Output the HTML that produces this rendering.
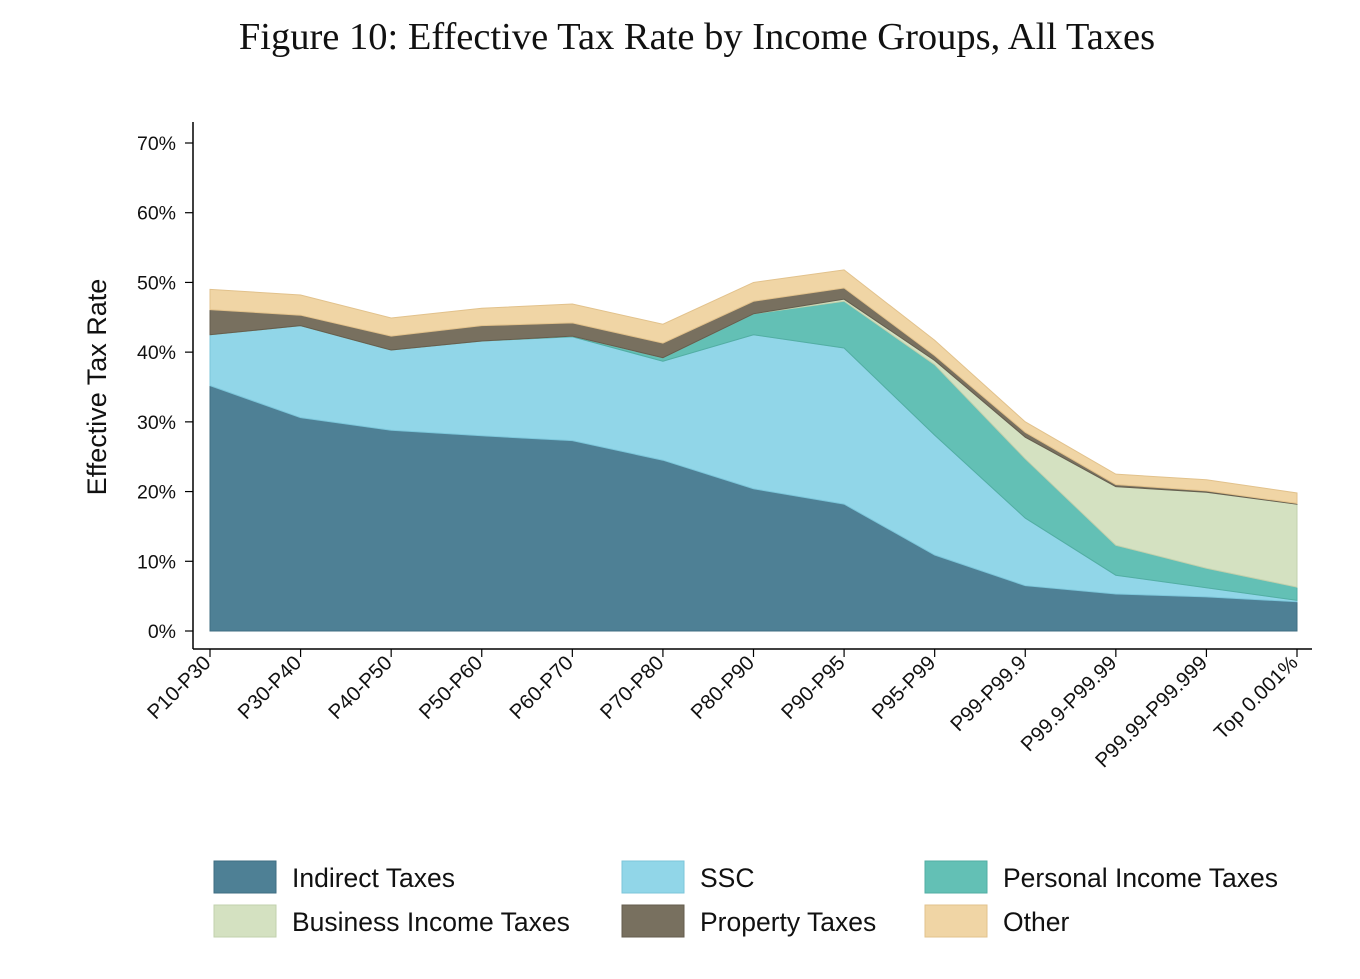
<!DOCTYPE html>
<html><head><meta charset="utf-8"><style>
body{margin:0;background:#fff;}
svg text{font-family:"Liberation Sans",sans-serif;fill:#111;}
</style></head><body>
<svg id="c" width="1360" height="974" xmlns="http://www.w3.org/2000/svg">
<text x="697" y="49" text-anchor="middle" style="font-family:'Liberation Serif',serif;font-size:38.5px">Figure 10: Effective Tax Rate by Income Groups, All Taxes</text>
<text transform="translate(106,387) rotate(-90)" text-anchor="middle" font-size="27">Effective Tax Rate</text>
<g id="areas"></g><g id="axes"></g><g id="legend"></g>
</svg>
<script>
const categories=["P10-P30","P30-P40","P40-P50","P50-P60","P60-P70","P70-P80","P80-P90","P90-P95","P95-P99","P99-P99.9","P99.9-P99.99","P99.99-P99.999","Top 0.001%"];
const indirect=[35.2,30.6,28.8,28,27.3,24.5,20.4,18.2,10.9,6.5,5.3,4.9,4.2];
const ssc=[7.3,13.2,11.5,13.6,14.9,14.2,22.1,22.4,17.2,9.7,2.7,1.3,0.2];
const pit=[0,0,0,0,0.1,0.5,3,6.7,10.1,8.5,4.3,2.8,1.9];
const bit=[0,0,0,0,0,0,0,0.3,0.6,3.1,8.4,10.9,11.9];
const property=[3.6,1.5,2,2.2,1.9,2.1,1.8,1.6,0.7,0.7,0.3,0.2,0.1];
const other=[2.9,2.9,2.6,2.5,2.7,2.7,2.7,2.6,2.2,1.5,1.5,1.6,1.5];
const yTicks=[0,10,20,30,40,50,60,70];
const seriesNames=["Indirect Taxes","SSC","Personal Income Taxes","Business Income Taxes","Property Taxes","Other"];
const NS="http://www.w3.org/2000/svg";
const X=i=>210+i*(1297-210)/(categories.length-1);
const Y=v=>631-v*(631-143)/70;
const series=[indirect,ssc,pit,bit,property,other];
const fills=["#4e8095","#91d6e8","#63c0b5","#d4e1c1","#78705f","#f0d5a5"];
const strokes=["#3f6e82","#7cc6da","#52aea3","#c2d1ad","#645d4e","#e2c28c"];
const slugs=["indirect-taxes","ssc","personal-income-taxes","business-income-taxes","property-taxes","other"];
function mk(t,a,p){const e=document.createElementNS(NS,t);for(const k in a)e.setAttribute(k,a[k]);p.appendChild(e);return e;}
const areas=document.getElementById('areas');
let base=categories.map(()=>0);
series.forEach((s,si)=>{
 const top=base.map((b,i)=>b+s[i]);
 let d=top.map((v,i)=>(i?'L':'M')+X(i)+','+Y(v)).join(' ');
 for(let i=categories.length-1;i>=0;i--)d+=' L'+X(i)+','+Y(base[i]);
 const p=mk('path',{d:d+'Z',fill:fills[si],stroke:strokes[si],'stroke-width':1},areas);
 
 
 base=top;
});
const ax=document.getElementById('axes');
const yl=mk('line',{x1:193,y1:122,x2:193,y2:649,stroke:'#000','stroke-width':1.5},ax);


const xl=mk('line',{x1:193,y1:649,x2:1312,y2:649,stroke:'#000','stroke-width':1.5},ax);


yTicks.forEach(v=>{
 mk('line',{x1:185,y1:Y(v),x2:193,y2:Y(v),stroke:'#000','stroke-width':1.2},ax);
 const t=mk('text',{x:176,y:Y(v)+7,'text-anchor':'end','font-size':19.5},ax);
 t.textContent=v+'%';
 
 
});
categories.forEach((c,i)=>{
 mk('line',{x1:X(i),y1:649,x2:X(i),y2:657,stroke:'#000','stroke-width':1.2},ax);
 const t=mk('text',{transform:`translate(${X(i)+2},${664}) rotate(-45)`,'text-anchor':'end','font-size':20.5},ax);
 t.textContent=c;
 
 
});
const lg=document.getElementById('legend');
const lx=[214,622,925], ly=[861,905];
seriesNames.forEach((n,si)=>{
 const col=si%3,row=Math.floor(si/3);
 const g=mk('g',{},lg);
 
 
 mk('rect',{x:lx[col],y:ly[row],width:62,height:32,fill:fills[si],stroke:strokes[si]},g);
 const t=mk('text',{x:lx[col]+78,y:ly[row]+26,'font-size':26.5},g);
 t.textContent=n;
});
</script>
</body></html>
